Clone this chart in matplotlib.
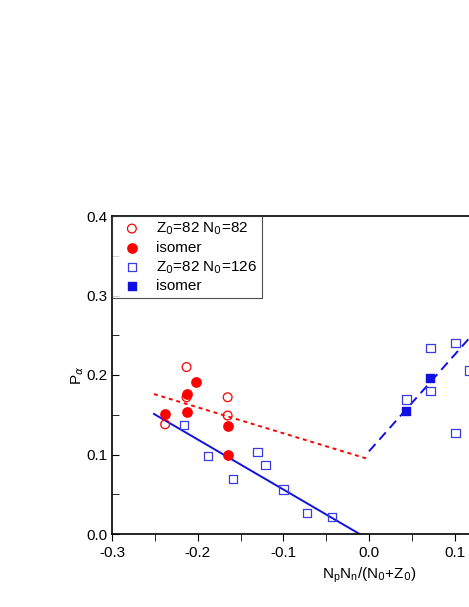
import matplotlib
matplotlib.use("Agg")
import matplotlib.pyplot as plt
import numpy as np

open_c_x = [-0.213, -0.213, -0.165, -0.165, -0.238]
open_c_y = [0.210, 0.172, 0.172, 0.149, 0.138]
fill_c_x = [-0.238, -0.213, -0.213, -0.2016, -0.165, -0.165]
fill_c_y = [0.151, 0.176, 0.154, 0.191, 0.136, 0.100]
open_s_x = [-0.216, -0.188, -0.130, -0.121, -0.159, -0.100, -0.072, -0.043,
            0.0436, 0.0716, 0.0716, 0.1008, 0.1008, 0.1175]
open_s_y = [0.137, 0.098, 0.103, 0.087, 0.069, 0.056, 0.026, 0.021,
            0.169, 0.180, 0.234, 0.2405, 0.127, 0.2055]
fill_s_x = [0.0432, 0.0716]
fill_s_y = [0.155, 0.196]
red_line_x = [-0.251, 0.0]
red_line_y = [0.176, 0.094]
blue_line_x = [-0.251, -0.011]
blue_line_y = [0.151, 0.0]
blue_dash_x = [0.0, 0.116, 0.2]
blue_dash_y = [0.104, 0.245, 0.347]

plt.rcParams['font.family'] = ['Liberation Sans', 'DejaVu Sans']
plt.rcParams['axes.unicode_minus'] = False
fig = plt.figure(figsize=(4.69, 6.07), dpi=100)
ax = fig.add_axes([112/469, 1-534/607, 514/469, (534-216)/607])

ax.plot(red_line_x, red_line_y, color='red', ls=(0, (2, 2)), lw=1.4)
ax.plot(blue_line_x, blue_line_y, color='#1010e0', lw=1.4)
ax.plot(blue_dash_x, blue_dash_y, color='#1010e0', ls=(0, (5, 3)), lw=1.4)
ax.scatter(open_c_x, open_c_y, s=40, facecolors='none', edgecolors='red', lw=0.9,
           label='Z$_0$=82 N$_0$=82', zorder=3)
ax.scatter(fill_c_x, fill_c_y, s=45, color='red', label='isomer', zorder=3)
ax.scatter(open_s_x, open_s_y, s=36, marker='s', facecolors='none', edgecolors='#3a3ae6',
           lw=0.9, label='Z$_0$=82 N$_0$=126', zorder=3)
ax.scatter(fill_s_x, fill_s_y, s=36, marker='s', color='#1010e0', label='isomer', zorder=3)

ax.set_xlim(-0.3, 0.3)
ax.set_ylim(0, 0.4)
ax.set_xticks([-0.3, -0.2, -0.1, 0.0, 0.1, 0.2, 0.3])
ax.set_xticks(np.arange(-0.25, 0.3, 0.1), minor=True)
ax.set_yticks([0, 0.1, 0.2, 0.3, 0.4])
ax.set_yticks([0.05, 0.15, 0.25, 0.35], minor=True)
ax.tick_params(axis='x', which='both', direction='out', length=5, labelsize=11)
ax.tick_params(axis='y', which='both', direction='in', length=5, labelsize=11)
ax.set_xlabel('N$_\\mathregular{p}$N$_\\mathregular{n}$/(N$_0$+Z$_0$)', fontsize=11)
ax.set_ylabel('P$_\\alpha$', fontsize=11, labelpad=0)
for s in ax.spines.values():
    s.set_linewidth(1.2)
leg = ax.legend(loc='upper left', bbox_to_anchor=(0, 1), borderaxespad=0, fontsize=11,
                frameon=True, fancybox=False, edgecolor='#222222', handletextpad=0.6,
                labelspacing=0.25, borderpad=0.3)
leg.get_frame().set_linewidth(0.8)
fig.savefig('out.png', dpi=100)
